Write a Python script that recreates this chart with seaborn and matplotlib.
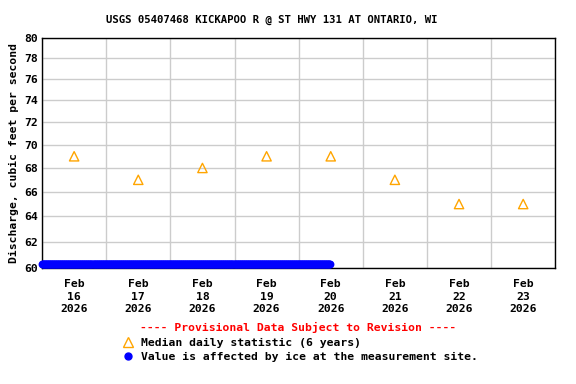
import numpy as np
import pandas as pd
import matplotlib
matplotlib.use("Agg")
import matplotlib.pyplot as plt
import matplotlib.dates as mdates
from matplotlib.lines import Line2D
from matplotlib.ticker import FixedLocator, NullLocator
import seaborn as sns

# --- data ---
median_days = ["2026-02-16", "2026-02-17", "2026-02-18", "2026-02-19",
               "2026-02-20", "2026-02-21", "2026-02-22", "2026-02-23"]
median_values = [69, 67, 68, 69, 69, 67, 65, 65]

# ice-affected 15-minute record: constant reading over the period
ice_start = "2026-02-16 00:00"
ice_end = "2026-02-20 11:45"
ice_value = 60.3

y_ticks = list(range(60, 81, 2))
title = "USGS 05407468 KICKAPOO R @ ST HWY 131 AT ONTARIO, WI"
ylabel = "Discharge, cubic feet per second"

median_df = pd.DataFrame({
    "time": pd.to_datetime(median_days) + pd.Timedelta(hours=12),
    "value": median_values,
})
ice_times = pd.date_range(ice_start, ice_end, freq="15min")
ice_df = pd.DataFrame({"time": ice_times, "value": [ice_value] * len(ice_times)})

sns.set_style("white")
plt.rcParams["font.family"] = ["DejaVu Sans Mono"]
plt.rcParams["font.weight"] = "bold"
for key in ["text.color", "axes.labelcolor", "xtick.color", "ytick.color"]:
    plt.rcParams[key] = "black"

fig = plt.figure(figsize=(5.76, 3.84), dpi=100)
ax = fig.add_axes([0.073, 0.302, 0.891, 0.599])

sns.scatterplot(data=ice_df, x="time", y="value", ax=ax, color="#0000ff",
                edgecolor="#0000ff", s=32, linewidth=0, clip_on=False, zorder=4)
sns.scatterplot(data=median_df, x="time", y="value", ax=ax, marker="^",
                s=45, facecolor="none", edgecolor="#ffa500", linewidth=1, zorder=5)

# discharge axis is logarithmic
ax.set_yscale("log")
ax.set_ylim(60, 80)
ax.yaxis.set_major_locator(FixedLocator(y_ticks))
ax.yaxis.set_minor_locator(NullLocator())
ax.set_yticklabels([str(v) for v in y_ticks], fontsize=8.2, fontweight="bold")

x0 = pd.Timestamp("2026-02-16")
x1 = pd.Timestamp("2026-02-24")
ax.set_xlim(x0, x1)

# gridlines at midnight, labels at noon
ax.xaxis.set_major_locator(mdates.DayLocator())
ax.xaxis.set_minor_locator(mdates.HourLocator(byhour=12))
ax.xaxis.set_major_formatter(plt.NullFormatter())
ax.xaxis.set_minor_formatter(mdates.DateFormatter("%b\n%d\n%Y"))
ax.tick_params(axis="x", which="both", length=0, labelsize=8.2, pad=8)
ax.tick_params(axis="y", which="both", length=0, pad=3)
for lbl in ax.get_xticklabels(minor=True):
    lbl.set_fontweight("bold")
    lbl.set_linespacing(1.3)
ax.grid(True, which="major", color="#cccccc", linewidth=1)
ax.set_axisbelow(True)
for s in ax.spines.values():
    s.set_color("black")
    s.set_linewidth(1)

ax.set_xlabel("")
ax.set_ylabel(ylabel, fontsize=8.2, fontweight="bold", labelpad=4)
fig.text(0.471, 0.947, title, ha="center", va="center", fontsize=7.7, fontweight="bold")

fig.text(0.518, 0.148, "---- Provisional Data Subject to Revision ----", ha="center",
         va="center", color="red", fontsize=8.2, fontweight="bold")

handles = [
    Line2D([], [], marker="^", linestyle="", markerfacecolor="none",
           markeredgecolor="#ffa500", markersize=7, markeredgewidth=1),
    Line2D([], [], marker="o", linestyle="", color="#0000ff", markersize=5),
]
labels = ["Median daily statistic (6 years)",
          "Value is affected by ice at the measurement site."]
fig.legend(handles, labels, loc="upper left", bbox_to_anchor=(0.203, 0.135),
           frameon=False, handlelength=1, handletextpad=0.6,
           borderpad=0, labelspacing=0.35, prop={"weight": "bold", "size": 8.2})

fig.savefig("out.png", dpi=100)
